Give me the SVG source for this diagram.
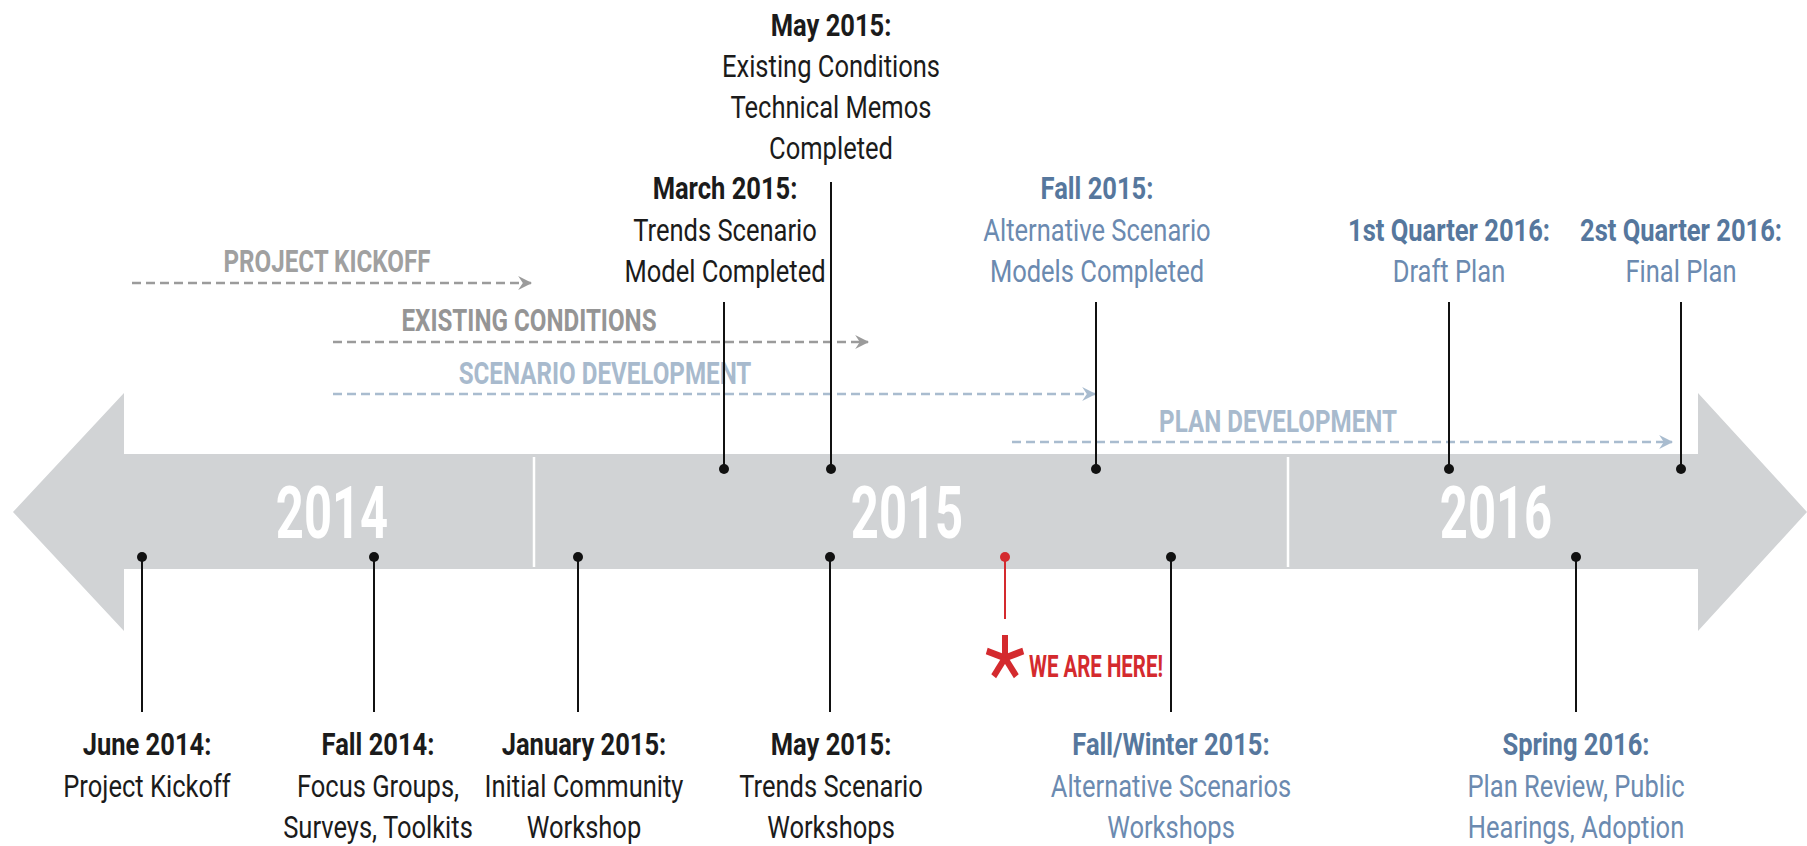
<svg xmlns="http://www.w3.org/2000/svg" width="1807" height="846" viewBox="0 0 1807 846">
  <defs>
    <style>
      .lbl { font-family: Roboto, "Liberation Sans", sans-serif; font-size: 31.5px; text-anchor: middle; }
      .t { font-weight: 700; }
      .k { fill: #1b1b1b; }
      .bt { fill: #56779d; }
      .b { fill: #6b8ab0; }
      .stem { stroke: #111; stroke-width: 2; }
      .dot { fill: #111; }
      .year { font-family: Roboto, "Liberation Sans", sans-serif; font-size: 72px; font-weight: 700; fill: #ffffff; text-anchor: middle; }
      .phase { font-family: Roboto, "Liberation Sans", sans-serif; font-size: 31px; font-weight: 700; text-anchor: middle; }
      .dash { fill: none; stroke-width: 2.5; stroke-dasharray: 9 5; }
    </style>
    <marker id="headGray" viewBox="0 0 12 12" refX="11" refY="6" markerWidth="14" markerHeight="14" markerUnits="userSpaceOnUse" orient="auto">
      <path d="M0,0 L12,6 L0,12 L4,6 z" fill="#9b9b9b"/>
    </marker>
    <marker id="headBlue" viewBox="0 0 12 12" refX="11" refY="6" markerWidth="14" markerHeight="14" markerUnits="userSpaceOnUse" orient="auto">
      <path d="M0,0 L12,6 L0,12 L4,6 z" fill="#a9bccf"/>
    </marker>
  </defs>

  <rect width="1807" height="846" fill="#ffffff"/>

  <!-- timeline band: double-headed arrow -->
  <g id="band">
    <polygon points="13,512 124,393 124,454 1698,454 1698,393 1807,512 1698,631 1698,569 124,569 124,631" fill="#d1d3d5"/>
    <line x1="534" y1="457" x2="534" y2="567" stroke="#ffffff" stroke-width="2.5"/>
    <line x1="1288" y1="457" x2="1288" y2="567" stroke="#ffffff" stroke-width="2.5"/>
    <g transform="translate(332,538) scale(0.68,1)"><text class="year" x="0" y="0">2014</text></g>
    <g transform="translate(907,538) scale(0.68,1)"><text class="year" x="0" y="0">2015</text></g>
    <g transform="translate(1496,538) scale(0.68,1)"><text class="year" x="0" y="0">2016</text></g>
  </g>

  <!-- project phases (dashed arrows) -->
  <g id="phases">
    <line class="dash" x1="132" y1="283" x2="531" y2="283" stroke="#9b9b9b" marker-end="url(#headGray)"/>
    <g transform="translate(327,0) scale(0.78,1)"><text class="phase" x="0" y="272" fill="#a0a0a0">PROJECT KICKOFF</text></g>

    <line class="dash" x1="333" y1="342" x2="868" y2="342" stroke="#9b9b9b" marker-end="url(#headGray)"/>
    <g transform="translate(529,0) scale(0.78,1)"><text class="phase" x="0" y="331" fill="#959595">EXISTING CONDITIONS</text></g>

    <line class="dash" x1="333" y1="394" x2="1095" y2="394" stroke="#a9bccf" marker-end="url(#headBlue)"/>
    <g transform="translate(605,0) scale(0.78,1)"><text class="phase" x="0" y="384" fill="#a8bacd">SCENARIO DEVELOPMENT</text></g>

    <line class="dash" x1="1012" y1="442" x2="1672" y2="442" stroke="#a9bccf" marker-end="url(#headBlue)"/>
    <g transform="translate(1278,0) scale(0.78,1)"><text class="phase" x="0" y="432" fill="#a8bacd">PLAN DEVELOPMENT</text></g>
  </g>

  <!-- milestones above the band -->
  <g id="m-march-2015">
    <line class="stem" x1="724" y1="302" x2="724" y2="469"/>
    <circle class="dot" cx="724" cy="469" r="5"/>
    <g transform="translate(725,0) scale(0.81,1)">
      <text class="lbl k"><tspan class="t" x="0" y="199">March 2015:</tspan><tspan x="0" y="241">Trends Scenario</tspan><tspan x="0" y="282">Model Completed</tspan></text>
    </g>
  </g>

  <g id="m-may-2015-memos">
    <line class="stem" x1="831" y1="182" x2="831" y2="469"/>
    <circle class="dot" cx="831" cy="469" r="5"/>
    <g transform="translate(831,0) scale(0.81,1)">
      <text class="lbl k"><tspan class="t" x="0" y="36">May 2015:</tspan><tspan x="0" y="77">Existing Conditions</tspan><tspan x="0" y="118">Technical Memos</tspan><tspan x="0" y="159">Completed</tspan></text>
    </g>
  </g>

  <g id="m-fall-2015">
    <line class="stem" x1="1096" y1="302" x2="1096" y2="469"/>
    <circle class="dot" cx="1096" cy="469" r="5"/>
    <g transform="translate(1097,0) scale(0.81,1)">
      <text class="lbl b"><tspan class="t bt" x="0" y="199">Fall 2015:</tspan><tspan x="0" y="241">Alternative Scenario</tspan><tspan x="0" y="282">Models Completed</tspan></text>
    </g>
  </g>

  <g id="m-q1-2016">
    <line class="stem" x1="1449" y1="302" x2="1449" y2="469"/>
    <circle class="dot" cx="1449" cy="469" r="5"/>
    <g transform="translate(1449,0) scale(0.81,1)">
      <text class="lbl b"><tspan class="t bt" x="0" y="241">1st Quarter 2016:</tspan><tspan x="0" y="282">Draft Plan</tspan></text>
    </g>
  </g>

  <g id="m-q2-2016">
    <line class="stem" x1="1681" y1="302" x2="1681" y2="469"/>
    <circle class="dot" cx="1681" cy="469" r="5"/>
    <g transform="translate(1681,0) scale(0.81,1)">
      <text class="lbl b"><tspan class="t bt" x="0" y="241">2st Quarter 2016:</tspan><tspan x="0" y="282">Final Plan</tspan></text>
    </g>
  </g>

  <!-- milestones below the band -->
  <g id="m-june-2014">
    <line class="stem" x1="142" y1="557" x2="142" y2="712"/>
    <circle class="dot" cx="142" cy="557" r="5"/>
    <g transform="translate(147,0) scale(0.81,1)">
      <text class="lbl k"><tspan class="t" x="0" y="755">June 2014:</tspan><tspan x="0" y="797">Project Kickoff</tspan></text>
    </g>
  </g>

  <g id="m-fall-2014">
    <line class="stem" x1="374" y1="557" x2="374" y2="712"/>
    <circle class="dot" cx="374" cy="557" r="5"/>
    <g transform="translate(378,0) scale(0.81,1)">
      <text class="lbl k"><tspan class="t" x="0" y="755">Fall 2014:</tspan><tspan x="0" y="797">Focus Groups,</tspan><tspan x="0" y="838">Surveys, Toolkits</tspan></text>
    </g>
  </g>

  <g id="m-jan-2015">
    <line class="stem" x1="578" y1="557" x2="578" y2="712"/>
    <circle class="dot" cx="578" cy="557" r="5"/>
    <g transform="translate(584,0) scale(0.81,1)">
      <text class="lbl k"><tspan class="t" x="0" y="755">January 2015:</tspan><tspan x="0" y="797">Initial Community</tspan><tspan x="0" y="838">Workshop</tspan></text>
    </g>
  </g>

  <g id="m-may-2015-workshops">
    <line class="stem" x1="830" y1="557" x2="830" y2="712"/>
    <circle class="dot" cx="830" cy="557" r="5"/>
    <g transform="translate(831,0) scale(0.81,1)">
      <text class="lbl k"><tspan class="t" x="0" y="755">May 2015:</tspan><tspan x="0" y="797">Trends Scenario</tspan><tspan x="0" y="838">Workshops</tspan></text>
    </g>
  </g>

  <g id="m-we-are-here">
    <line x1="1005" y1="557" x2="1005" y2="619" stroke="#d42a2e" stroke-width="2"/>
    <circle cx="1005" cy="557" r="5" fill="#d42a2e"/>
    <g transform="translate(1005,658) scale(0.85,1)" stroke="#d42a2e" stroke-width="7">
      <line x1="0" y1="0" x2="0" y2="-23"/>
      <line x1="0" y1="0" x2="21.5" y2="-7"/>
      <line x1="0" y1="0" x2="-21.5" y2="-7"/>
      <line x1="0" y1="0" x2="13.3" y2="18.3"/>
      <line x1="0" y1="0" x2="-13.3" y2="18.3"/>
    </g>
    <text x="1029" y="677" font-family="Roboto, 'Liberation Sans', sans-serif" font-size="31" font-weight="700" fill="#d42a2e" textLength="134" lengthAdjust="spacingAndGlyphs">WE ARE HERE!</text>
  </g>

  <g id="m-fall-winter-2015">
    <line class="stem" x1="1171" y1="557" x2="1171" y2="712"/>
    <circle class="dot" cx="1171" cy="557" r="5"/>
    <g transform="translate(1171,0) scale(0.81,1)">
      <text class="lbl b"><tspan class="t bt" x="0" y="755">Fall/Winter 2015:</tspan><tspan x="0" y="797">Alternative Scenarios</tspan><tspan x="0" y="838">Workshops</tspan></text>
    </g>
  </g>

  <g id="m-spring-2016">
    <line class="stem" x1="1576" y1="557" x2="1576" y2="712"/>
    <circle class="dot" cx="1576" cy="557" r="5"/>
    <g transform="translate(1576,0) scale(0.81,1)">
      <text class="lbl b"><tspan class="t bt" x="0" y="755">Spring 2016:</tspan><tspan x="0" y="797">Plan Review, Public</tspan><tspan x="0" y="838">Hearings, Adoption</tspan></text>
    </g>
  </g>
</svg>
